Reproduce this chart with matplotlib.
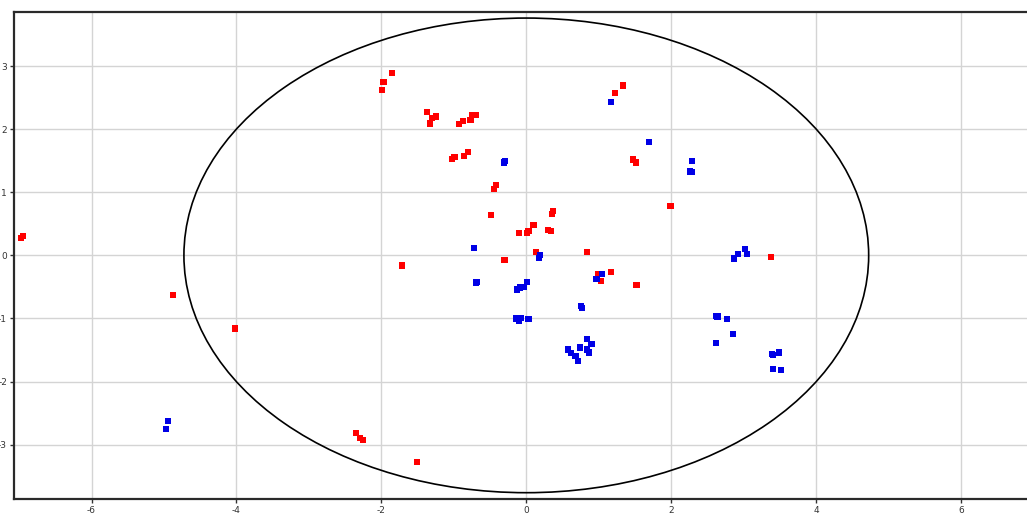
import matplotlib
matplotlib.use("Agg")
import matplotlib.pyplot as plt
from matplotlib.patches import Ellipse

plt.rcParams['axes.unicode_minus'] = False

# red group
red_x = [-6.97, -6.95, -4.88, -4.02, -2.35, -2.30, -2.25, -1.51, -1.71,
         -1.85, -1.97, -1.99, -1.37, -1.30, -1.25, -1.33, -0.93, -0.87, -0.77, -0.75, -0.69,
         -1.02, -0.99, -0.86, -0.80, -0.42, -0.45, -0.49,
         0.37, 0.35, 0.10, 0.03, 0.01, -0.10, 0.30, 0.34, 0.13, -0.30,
         0.84, 1.17, 0.99, 1.03, 1.52,
         1.33, 1.22, 1.47, 1.51, 1.99, 3.38]
red_y = [0.27, 0.31, -0.63, -1.16, -2.82, -2.89, -2.93, -3.28, -0.16,
         2.89, 2.75, 2.62, 2.27, 2.18, 2.20, 2.09, 2.08, 2.13, 2.14, 2.23, 2.23,
         1.53, 1.56, 1.57, 1.64, 1.12, 1.05, 0.64,
         0.70, 0.66, 0.48, 0.39, 0.35, 0.35, 0.40, 0.39, 0.05, -0.07,
         0.05, -0.26, -0.30, -0.41, -0.47,
         2.69, 2.57, 1.52, 1.47, 0.78, -0.03]

# blue group
blue_x = [-4.95, -4.97, -0.31, -0.29, -0.72, -0.68, -0.69,
          -0.13, -0.09, -0.04, 0.01, 0.19, 0.17, 1.05, 0.97,
          -0.14, -0.10, -0.07, 0.03, 0.76, 0.77,
          0.84, 0.90, 0.74, 0.84, 0.86, 0.58, 0.62, 0.68, 0.71,
          1.17, 1.69, 2.29, 2.26, 2.28,
          2.87, 2.92, 3.02, 3.05,
          2.62, 2.64, 2.77, 2.85, 2.62, 3.39, 3.41, 3.49, 3.40, 3.52]
blue_y = [-2.63, -2.75, 1.47, 1.50, 0.12, -0.42, -0.43,
          -0.54, -0.51, -0.50, -0.42, 0.00, -0.04, -0.30, -0.38,
          -1.00, -1.04, -0.99, -1.01, -0.80, -0.84,
          -1.32, -1.41, -1.46, -1.49, -1.54, -1.49, -1.55, -1.59, -1.67,
          2.43, 1.80, 1.49, 1.33, 1.32,
          -0.05, 0.02, 0.10, 0.02,
          -0.96, -0.97, -1.01, -1.25, -1.39, -1.56, -1.58, -1.54, -1.80, -1.82]

ell_center = (0.0, 0.0)
ell_width = 9.45
ell_height = 7.52

xticks = [-6, -4, -2, 0, 2, 4, 6]
yticks = [-3, -2, -1, 0, 1, 2, 3]

fig = plt.figure(figsize=(10.27, 5.14), dpi=100)
ax = fig.add_axes([14/1027, 15/514, 1 - 14/1027, 1 - 27/514])

ax.grid(True, color='#d4d4d4', lw=1.0, zorder=0)
ax.set_axisbelow(True)

ax.scatter(red_x, red_y, marker='s', s=20, color='#ff0000', edgecolors='none', zorder=3)
ax.scatter(blue_x, blue_y, marker='s', s=20, color='#0000e6', edgecolors='none', zorder=3)

ax.add_patch(Ellipse(ell_center, ell_width, ell_height, fill=False,
                     edgecolor='black', lw=1.2, zorder=2))

ax.set_xlim(-7.07, 6.91)
ax.set_ylim(-3.86, 3.856)
ax.set_xticks(xticks)
ax.set_yticks(yticks)
ax.tick_params(labelsize=6.5, colors='#333333', length=3, width=1, pad=2)

for s in ['left', 'bottom', 'top']:
    ax.spines[s].set_linewidth(1.6)
    ax.spines[s].set_color('#2a2a2a')
ax.spines['right'].set_visible(False)

fig.savefig('out.png', dpi=100)
